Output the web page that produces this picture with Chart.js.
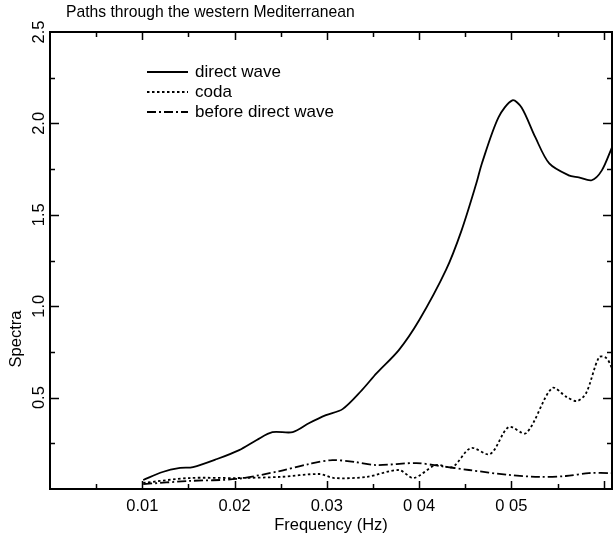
<!DOCTYPE html>
<html>
<head>
<meta charset="utf-8">
<script src="https://cdn.jsdelivr.net/npm/chart.js@4/dist/chart.umd.min.js"></script>
<style>
  html, body { margin: 0; padding: 0; background: #fff; }
  canvas { display: block; }
</style>
</head>
<body>
<canvas id="spectraChart" width="613" height="538"></canvas>
<script>
// values (frequency in Hz, spectral amplitude)
const directFreq = [0.0101, 0.0122, 0.0141, 0.0155, 0.0181, 0.0205, 0.0224, 0.0241, 0.0263, 0.0281, 0.0299, 0.0317, 0.0338, 0.0354, 0.0378, 0.0400, 0.0429, 0.0446, 0.0462, 0.0468, 0.0486, 0.0501, 0.0511, 0.0526, 0.0541, 0.0562, 0.0573, 0.0587, 0.0598, 0.0609];
const directAmp  = [0.049, 0.093, 0.115, 0.120, 0.164, 0.213, 0.268, 0.311, 0.311, 0.361, 0.404, 0.437, 0.541, 0.634, 0.760, 0.923, 1.197, 1.415, 1.672, 1.781, 2.033, 2.126, 2.087, 1.923, 1.781, 1.716, 1.705, 1.689, 1.743, 1.869];

const codaFreq = [0.0101, 0.0151, 0.0202, 0.0249, 0.0292, 0.0308, 0.0343, 0.0378, 0.0394, 0.0418, 0.0436, 0.0456, 0.0477, 0.0497, 0.0516, 0.0544, 0.0560, 0.0571, 0.0581, 0.0595, 0.0603, 0.0609];
const codaAmp  = [0.033, 0.060, 0.060, 0.066, 0.082, 0.060, 0.066, 0.104, 0.060, 0.131, 0.120, 0.224, 0.191, 0.339, 0.306, 0.552, 0.503, 0.481, 0.525, 0.721, 0.716, 0.661];

const beforeFreq = [0.0101, 0.0151, 0.0202, 0.0249, 0.0281, 0.0306, 0.0330, 0.0354, 0.0397, 0.0422, 0.0454, 0.0497, 0.0530, 0.0559, 0.0584, 0.0609];
const beforeAmp  = [0.027, 0.044, 0.055, 0.098, 0.137, 0.158, 0.148, 0.131, 0.142, 0.126, 0.104, 0.077, 0.066, 0.071, 0.087, 0.087];

const seriesNames = ['direct wave', 'coda', 'before direct wave'];

const xTickValues = [0.01, 0.02, 0.03, 0.04, 0.05];
const xTickLabels = ['0.01', '0.02', '0.03', '0 04', '0 05'];
const yTickValues = [0.5, 1.0, 1.5, 2.0, 2.5];
const yTickLabels = ['0.5', '1.0', '1.5', '2.0', '2.5'];

const FONT = '"Liberation Sans", Arial, Helvetica, sans-serif';

function points(xs, ys) {
    return xs.map((v, i) => ({ x: v, y: ys[i] }));
}

const dashes = [[], [2.5, 2.5], [9, 3, 2, 3]];

// frame, inward ticks, rotated y labels, title and legend
const decor = {
    id: 'decor',
    afterDraw(chart) {
        const ctx = chart.ctx;
        const a = chart.chartArea;
        const x = chart.scales.x;
        const y = chart.scales.y;
        ctx.save();
        ctx.strokeStyle = '#000';
        ctx.fillStyle = '#000';

        ctx.lineWidth = 1.5;
        for (let v = 0.005; v < x.max; v += 0.005) {
            const px = Math.round(x.getPixelForValue(v)) + 0.5;
            const len = Math.abs(v / 0.01 - Math.round(v / 0.01)) < 1e-6 ? 8 : 5;
            ctx.beginPath();
            ctx.moveTo(px, a.bottom); ctx.lineTo(px, a.bottom - len);
            ctx.moveTo(px, a.top); ctx.lineTo(px, a.top + len);
            ctx.stroke();
        }
        for (let v = 0.25; v < y.max; v += 0.25) {
            const py = Math.round(y.getPixelForValue(v)) + 0.5;
            const len = Math.abs(v / 0.5 - Math.round(v / 0.5)) < 1e-6 ? 9 : 5;
            ctx.beginPath();
            ctx.moveTo(a.left, py); ctx.lineTo(a.left + len, py);
            ctx.moveTo(a.right, py); ctx.lineTo(a.right - len, py);
            ctx.stroke();
        }

        ctx.lineWidth = 2;
        ctx.strokeRect(a.left, a.top, a.right - a.left, a.bottom - a.top);

        // y tick labels, rotated
        ctx.font = '16.5px ' + FONT;
        ctx.textAlign = 'center';
        ctx.textBaseline = 'middle';
        yTickValues.forEach((v, i) => {
            ctx.save();
            ctx.translate(39, y.getPixelForValue(v));
            ctx.rotate(-Math.PI / 2);
            ctx.fillText(yTickLabels[i], 0, 0);
            ctx.restore();
        });
        ctx.save();
        ctx.translate(16, 339);
        ctx.rotate(-Math.PI / 2);
        ctx.fillText('Spectra', 0, 0);
        ctx.restore();

        // title
        ctx.textAlign = 'left';
        ctx.font = '15.7px ' + FONT;
        ctx.fillText('Paths through the western Mediterranean', 66, 13);

        // legend
        ctx.font = '17px ' + FONT;
        chart.data.datasets.forEach((ds, i) => {
            const ly = 72 + i * 20;
            ctx.lineWidth = ds.borderWidth;
            ctx.setLineDash(ds.borderDash);
            ctx.beginPath();
            ctx.moveTo(147, ly); ctx.lineTo(188, ly);
            ctx.stroke();
            ctx.setLineDash([]);
            ctx.fillText(ds.label, 195, ly);
        });
        ctx.restore();
    }
};

new Chart(document.getElementById('spectraChart'), {
    type: 'scatter',
    data: {
        datasets: [
            { label: seriesNames[0], data: points(directFreq, directAmp), borderDash: dashes[0] },
            { label: seriesNames[1], data: points(codaFreq, codaAmp), borderDash: dashes[1] },
            { label: seriesNames[2], data: points(beforeFreq, beforeAmp), borderDash: dashes[2] }
        ].map(ds => Object.assign(ds, {
            showLine: true,
            borderColor: '#000',
            borderWidth: 1.8,
            pointRadius: 0,
            tension: 0.3,
            fill: false
        }))
    },
    options: {
        responsive: false,
        animation: false,
        layout: { padding: { top: 32, right: 1, left: 0, bottom: 0 } },
        plugins: {
            legend: { display: false },
            tooltip: { enabled: false },
            title: { display: false }
        },
        scales: {
            x: {
                type: 'linear',
                min: 0,
                max: 0.0609,
                afterFit(scale) { scale.height = 49; },
                afterBuildTicks(scale) { scale.ticks = xTickValues.map(v => ({ value: v })); },
                grid: { display: false, drawTicks: false },
                border: { display: false },
                ticks: {
                    padding: 8,
                    color: '#000',
                    font: { family: FONT, size: 16.5 },
                    maxRotation: 0,
                    autoSkip: false,
                    callback: (v) => xTickLabels[xTickValues.indexOf(v)] ?? ''
                },
                title: {
                    display: true,
                    text: 'Frequency (Hz)',
                    color: '#000',
                    font: { family: FONT, size: 16.5 },
                    padding: { top: 0, bottom: 3 }
                }
            },
            y: {
                type: 'linear',
                min: 0,
                max: 2.5,
                afterFit(scale) { scale.width = 50; },
                grid: { display: false, drawTicks: false },
                border: { display: false },
                ticks: { display: false }
            }
        }
    },
    plugins: [decor]
});
</script>
</body>
</html>
